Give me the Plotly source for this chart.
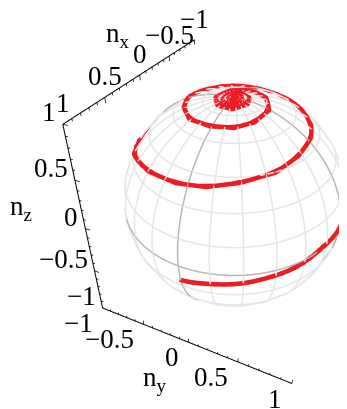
import numpy as np
import plotly.graph_objects as go

xticks = [1, 0.5, 0, -0.5, -1]
yticks = [-1, -0.5, 0, 0.5, 1]
zticks = [1, 0.5, 0, -0.5, -1]
lab = {1: "1", 0.5: "0.5", 0: "0", -0.5: "\u22120.5", -1: "\u22121"}

spiral_nx = [.983,.974,.9645,.919,.873,.820,.766,.670,.574,.446,.318,.157,-.003,-.199,-.638,-.919,-.944,-.715,-.307,
    .252,.441,.570,.700,.739,.778,.765,.751,.695,.640,.544,.448,.328,.209,.080,-.050,-.137,-.223,-.390,-.456,-.522,-.535,-.478,-.404,
    -.369,-.26,-.155,-.049,.07,.190,.268,.347,.368,.389,.365,.340,.276,.212,.11,.008,-.08,-.167,-.188,-.209,-.16,-.110,-.026,.058,
    .167,.173,.054,-.047,-.106,-.017,.079,
    .131,.133,.045,-.041,-.024,.053,.11,.059,-.005,.025,.072,.047,.028,.043]
spiral_ny = [-.015,.108,.230,.354,.478,.558,.637,.727,.816,.880,.945,.972,.999,.982,.761,.335,-.167,-.600,-.845,
    -.816,-.738,-.568,-.399,-.249,-.099,.022,.143,.252,.361,.456,.551,.596,.641,.645,.648,.618,.588,.447,.343,.239,.072,-.084,-.189,
    -.203,-.38,-.42,-.449,-.41,-.365,-.29,-.218,-.116,-.015,.075,.165,.22,.274,.29,.306,.255,.204,.126,.048,-.022,-.091,-.118,-.144,
    -.068,.067,.142,.113,-.005,-.073,-.069,
    -.027,.056,.094,.043,-.021,-.037,.017,.064,.025,-.006,.008,.032,.014,.012]
spiral_nz = [-.180,-.153,-.127,-.112,-.098,-.082,-.067,-.054,-.042,-.014,.013,.005,-.004,.036,.122,.208,.284,.358,.438,
    .525,.509,.548,.587,.603,.619,.631,.643,.660,.677,.690,.704,.721,.739,.750,.760,.767,.775,.803,.811,.820,.839,.875,.895,
    .902,.888,.889,.893,.902,.910,.912,.913,.917,.921,.924,.927,.932,.937,.945,.952,.958,.963,.97,.976,.983,.989,.989,.989,
    .983,.983,.988,.992,.994,.997,.995,
    .99,.99,.995,.999,1,.998,.994,.996,1,1,.997,.999,1,.999]

def camera(az, el, length, shift=(0, 0), roll=0):
    az, el, roll = np.radians(az), np.radians(el), np.radians(roll)
    d = np.array([np.cos(el)*np.cos(az), np.cos(el)*np.sin(az), np.sin(el)])
    right = np.cross([0, 0, 1.0], d); right /= np.linalg.norm(right)
    u = np.cross(d, right)
    c = shift[0]*right + shift[1]*u
    e = d*length + c
    up = u*np.cos(roll) + right*np.sin(roll)
    return dict(eye=dict(x=e[0], y=e[1], z=e[2]), center=dict(x=c[0], y=c[1], z=c[2]), up=dict(x=up[0], y=up[1], z=up[2]))

fig = go.Figure()
t = np.radians(np.arange(0, 361, 3))
th, ph = np.meshgrid(np.radians(np.arange(0, 181, 5)), np.radians(np.arange(0, 361, 5)))
fig.add_trace(go.Surface(scene="scene2", x=np.sin(th)*np.cos(ph)*0.985, y=np.sin(th)*np.sin(ph)*0.985, z=np.cos(th)*0.985,
    colorscale=[[0, "white"], [1, "white"]], showscale=False, lighting=dict(ambient=1, diffuse=0, specular=0, fresnel=0), hoverinfo="skip"))

def add_lines(xs, ys, zs, color, w, scene="scene"):
    fig.add_trace(go.Scatter3d(scene=scene, x=xs, y=ys, z=zs, mode="lines", line=dict(color=color, width=w), hoverinfo="skip", showlegend=False))

def circles(lat_list, lon_list):
    xs, ys, zs = [], [], []
    for lat in lat_list:
        la = np.radians(lat)
        xs += list(np.cos(la)*np.cos(t)) + [None]; ys += list(np.cos(la)*np.sin(t)) + [None]; zs += [np.sin(la)]*len(t) + [None]
    for lon in lon_list:
        lo = np.radians(lon)
        xs += list(np.cos(t)*np.cos(lo)) + [None]; ys += list(np.cos(t)*np.sin(lo)) + [None]; zs += list(np.sin(t)) + [None]
    return xs, ys, zs

lats = [l for l in range(-75, 90, 15) if l != 0]
lons = [l for l in range(0, 180, 15) if l not in (0, 90)]
add_lines(*circles(lats, lons), "#e6e6e6", 3, "scene2")
add_lines(*circles([0], [0, 90]), "#b8b8b8", 3, "scene2")

P = np.array([spiral_nx, spiral_ny, spiral_nz], dtype=float)
P = P/np.linalg.norm(P, axis=0)
add_lines(P[0], P[1], P[2], "#ed1c24", 9, "scene2")
# second pass over the same polyline, covering the gaps WebGL leaves at its joints
Q = (P[:, 1:] + P[:, :-1])/2
Q = Q/np.linalg.norm(Q, axis=0)
add_lines(Q[0], Q[1], Q[2], "#ed1c24", 9, "scene2")

def ticks(axis):
    xs, ys, zs = [], [], []
    for v in np.arange(-1, 1.001, 0.1):
        major = abs((v*2) - round(v*2)) < 1e-6
        ln = 0.05 if major else 0.025
        if axis == "x":
            p, q = (v, -1, 1), (v, -1, 1-ln)
        elif axis == "y":
            p, q = (1, v, -1), (1, v, -1+ln)
        else:
            p, q = (1, -1, v), (1, -1+ln, v)
        xs += [p[0], q[0], None]; ys += [p[1], q[1], None]; zs += [p[2], q[2], None]
    return xs, ys, zs

add_lines([1, -1], [-1, -1], [1, 1], "black", 2)
add_lines([1, 1], [-1, 1], [-1, -1], "black", 2)
add_lines([1, 1], [-1, -1], [1, -1], "black", 2)
for a in "xyz":
    add_lines(*ticks(a), "black", 1.5)

F = dict(family="Liberation Serif", size=27, color="black")
ann = []
for v in xticks:
    ann.append(dict(x=v, y=-1, z=1, text=lab[v], showarrow=False, font=F, xanchor="center", yanchor="middle", xshift=0, yshift=21))
for v in yticks:
    ann.append(dict(x=1, y=v, z=-1, text=lab[v], showarrow=False, font=F, xanchor="right", yanchor="middle", xshift=-8, yshift=-15))
for v in zticks:
    ann.append(dict(x=1, y=-1, z=v, text=lab[v], showarrow=False, font=F, xanchor="right", yanchor="middle", xshift=-5, yshift=12))
ann.append(dict(x=0, y=-1, z=1, text="n<sub>x</sub>", showarrow=False, font=F, xshift=-22, yshift=40))
ann.append(dict(x=1, y=0, z=-1, text="n<sub>y</sub>", showarrow=False, font=F, xshift=-34, yshift=-37))
ann.append(dict(x=1, y=-1, z=0, text="n<sub>z</sub>", showarrow=False, font=F, xshift=-64, yshift=21))

ax = dict(visible=False, range=[-1.0, 1.0], autorange=False)
fig.update_layout(width=347, height=409, margin=dict(l=0, r=0, t=0, b=0), paper_bgcolor="white", showlegend=False,
    scene=dict(xaxis=ax, yaxis=ax, zaxis=ax, aspectmode="manual", aspectratio=dict(x=1.08, y=0.97, z=1), annotations=ann, bgcolor="rgba(0,0,0,0)",
        domain=dict(x=[0, 1], y=[0, 1]), camera=camera(31, 36, 2.33, (-0.27, -0.084), 4)),
    scene2=dict(xaxis=ax, yaxis=ax, zaxis=ax, aspectmode="cube", bgcolor="rgba(0,0,0,0)",
        domain=dict(x=[110/347, 1], y=[17/409, 1]), camera=camera(26, 38, 2.2, (0.008, -0.035))))
fig.write_html("out.html")
